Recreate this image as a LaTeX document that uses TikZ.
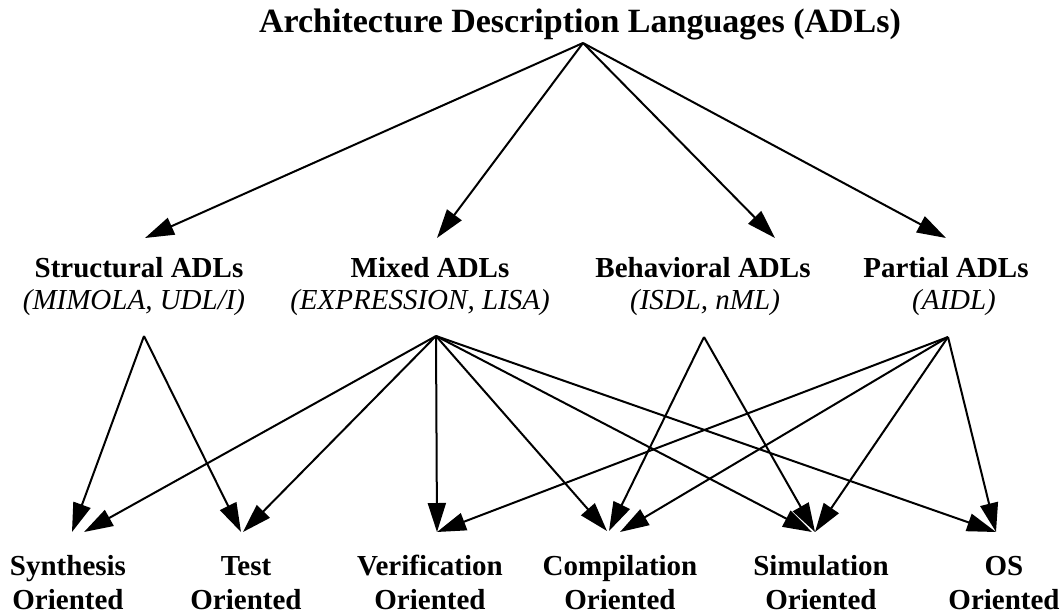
\documentclass[tikz,border=0pt]{standalone}
\usepackage{fontspec}
\setmainfont{Liberation Serif}
\usetikzlibrary{arrows.meta}
\begin{document}
\begin{tikzpicture}[x=1pt,y=-1pt,
  arr/.style={line width=2pt, -{Triangle[length=29pt,width=18pt]}},
  ttl/.style={inner sep=0pt, anchor=base, font=\fontsize{34}{40}\selectfont\bfseries},
  lbl/.style={inner sep=0pt, anchor=base, font=\fontsize{29}{34}\selectfont\bfseries},
  ex/.style={inner sep=0pt, anchor=base, font=\fontsize{29}{34}\selectfont\itshape}]
\path[use as bounding box] (0,0) rectangle (1063,611);

% root
\node[ttl] (adl) at (580,32) {Architecture Description Languages (ADLs)};

% language classes
\node[lbl] (struct)   at (139,277) {Structural ADLs};
\node[ex]  (structex) at (134,309) {(MIMOLA, UDL/I)};
\node[lbl] (mixed)    at (430,277) {Mixed ADLs};
\node[ex]  (mixedex)  at (420,309) {(EXPRESSION, LISA)};
\node[lbl] (behav)    at (703,277) {Behavioral ADLs};
\node[ex]  (behavex)  at (705,309) {(ISDL, nML)};
\node[lbl] (part)     at (946,277) {Partial ADLs};
\node[ex]  (partex)   at (954,309) {(AIDL)};

% purposes
\newcommand{\twoline}[2]{\begin{tabular}[t]{@{}c@{}}#1\\#2\end{tabular}}
\node[lbl] (synth)  at (68,575)  {\twoline{Synthesis}{Oriented}};
\node[lbl] (test)   at (246,575) {\twoline{Test}{Oriented}};
\node[lbl] (verif)  at (430,575) {\twoline{Verification}{Oriented}};
\node[lbl] (compil) at (620,575) {\twoline{Compilation}{Oriented}};
\node[lbl] (simul)  at (821,575) {\twoline{Simulation}{Oriented}};
\node[lbl] (os)     at (1004,575) {\twoline{OS}{Oriented}};

% ports
\coordinate (adl-out)    at (583,43);
\coordinate (struct-in)  at (145,238);
\coordinate (mixed-in)   at (437,238);
\coordinate (behav-in)   at (775,238);
\coordinate (part-in)    at (946,238);
\coordinate (struct-out) at (144,336);
\coordinate (mixed-out)  at (436,336);
\coordinate (behav-out)  at (704,337);
\coordinate (part-out)   at (948,337);

\coordinate (synth-a)  at (72,532);
\coordinate (synth-b)  at (84,532);
\coordinate (test-a)   at (241,532);
\coordinate (test-b)   at (243,532);
\coordinate (verif-a)  at (437,532);
\coordinate (compil-a) at (607,531);
\coordinate (compil-b) at (609,531);
\coordinate (compil-c) at (620,532);
\coordinate (simul-a)  at (812,532);
\coordinate (simul-b)  at (815,532);
\coordinate (os-a)     at (996,532);

% root to classes
\draw[arr] (adl-out) -- (struct-in);
\draw[arr] (adl-out) -- (mixed-in);
\draw[arr] (adl-out) -- (behav-in);
\draw[arr] (adl-out) -- (part-in);

% structural
\draw[arr] (struct-out) -- (synth-a);
\draw[arr] (struct-out) -- (test-a);

% mixed
\draw[arr] (mixed-out) -- (synth-b);
\draw[arr] (mixed-out) -- (test-b);
\draw[arr] (mixed-out) -- (verif-a);
\draw[arr] (mixed-out) -- (compil-a);
\draw[arr] (mixed-out) -- (simul-a);
\draw[arr] (mixed-out) -- (os-a);

% behavioral
\draw[arr] (behav-out) -- (compil-b);
\draw[arr] (behav-out) -- (simul-b);

% partial
\draw[arr] (part-out) -- (verif-a);
\draw[arr] (part-out) -- (compil-c);
\draw[arr] (part-out) -- (simul-b);
\draw[arr] (part-out) -- (os-a);
\end{tikzpicture}
\end{document}
